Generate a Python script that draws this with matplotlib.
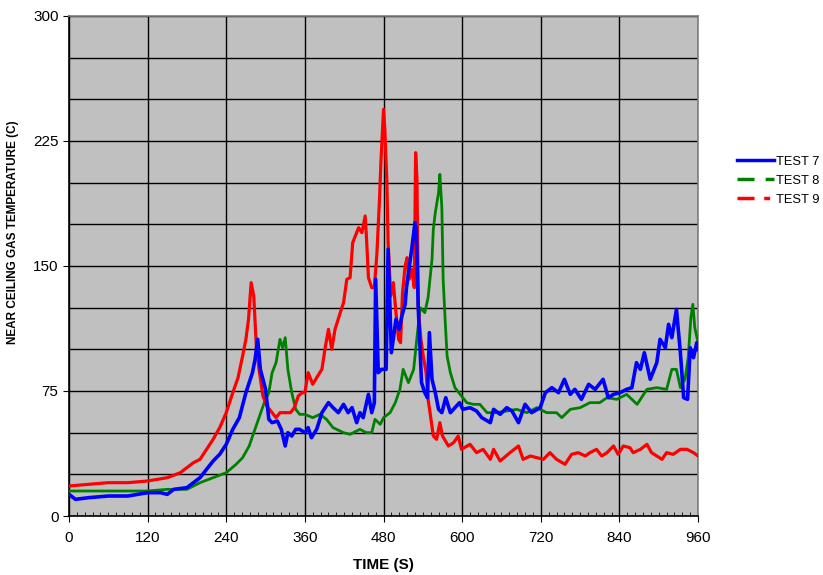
import matplotlib.pyplot as plt
from matplotlib.lines import Line2D
from matplotlib.ticker import MultipleLocator

plt.rcParams['font.family'] = ['Liberation Sans', 'DejaVu Sans']

# TEST 7 (blue)
t7 = [0, 10, 30, 60, 90, 120, 140, 150, 160, 180, 200, 210, 220, 230, 240, 250, 260, 270, 280, 284,
      288, 292, 296, 300, 305, 310, 318, 324, 330, 334, 340, 346, 352, 360, 365, 370, 378, 386, 396,
      403, 411, 419, 426, 432, 439, 444, 449, 457, 462, 466, 468, 472, 477, 484, 487, 492, 499, 504,
      508, 513, 515, 523, 528, 530, 533, 538, 543, 547, 550, 554, 559, 564, 569, 575, 582, 589, 596,
      601, 612, 622, 630, 643, 648, 658, 668, 676, 686, 696, 706, 719, 727, 737, 747, 756, 765, 772,
      782, 793, 803, 815, 823, 831, 841, 851, 859, 866, 872, 878, 887, 897, 902, 910, 915, 920, 927,
      933, 938, 944, 948, 953, 958, 960]
v7 = [13, 10, 11, 12, 12, 14, 14, 13, 16, 17, 23, 28, 33, 37, 43, 52, 59, 74, 86, 94,
      106, 88, 82, 76, 58, 56, 57, 52, 42, 50, 48, 52, 52, 50, 53, 47, 52, 62, 68,
      65, 62, 67, 62, 65, 56, 62, 59, 73, 62, 68, 142, 86, 88, 88, 160, 98, 118, 112,
      120, 127, 137, 160, 176, 172, 125, 80, 74, 71, 110, 82, 74, 64, 62, 71, 62, 65, 68,
      64, 65, 63, 59, 56, 64, 61, 65, 63, 56, 67, 62, 65, 74, 77, 74, 82, 73, 76,
      70, 79, 76, 82, 71, 73, 74, 76, 77, 92, 88, 98, 82, 92, 106, 101, 115, 107, 124,
      98, 71, 70, 101, 95, 104, 100]

# TEST 8 (green)
t8 = [0, 30, 60, 90, 120, 150, 170, 180, 200, 220, 240, 255, 265, 275, 282, 290, 298, 305, 310, 316,
      322, 326, 330, 334, 340, 346, 352, 360, 372, 383, 393, 403, 419, 429, 444, 454, 462, 467, 475,
      480, 490, 498, 505, 510, 518, 526, 531, 536, 543, 548, 554, 556, 559, 564, 566, 569, 571, 574,
      577, 582, 589, 597, 607, 617, 627, 638, 653, 668, 683, 699, 714, 729, 744, 752, 765, 780, 795,
      810, 821, 836, 851, 867, 882, 897, 912, 920, 927, 933, 940, 945, 949, 952, 955, 960]
v8 = [15, 15, 15, 15, 15, 16, 16, 16, 20, 23, 26, 31, 35, 42, 50, 59, 68, 74, 86, 92,
      106, 101, 107, 88, 74, 64, 61, 61, 59, 61, 58, 53, 50, 49, 52, 50, 50, 58, 55,
      59, 62, 68, 76, 88, 80, 88, 107, 125, 122, 131, 154, 172, 182, 194, 205, 185, 142, 118,
      96, 86, 77, 73, 68, 67, 67, 62, 62, 63, 64, 62, 65, 62, 62, 59, 64, 65, 68,
      68, 71, 70, 73, 67, 76, 77, 76, 88, 88, 77, 82, 95, 119, 127, 113, 104]

# TEST 9 (red)
t9 = [0, 30, 60, 90, 120, 150, 170, 190, 200, 210, 220, 230, 240, 250, 258, 265, 270, 274, 278, 282,
      286, 290, 296, 302, 310, 316, 322, 330, 338, 344, 350, 356, 360, 365, 372, 378, 386, 391, 396,
      401, 406, 414, 419, 424, 429, 433, 442, 447, 452, 454, 457, 462, 466, 470, 474, 476, 480, 482,
      485, 487, 491, 495, 499, 503, 506, 509, 513, 516, 519, 523, 527, 529, 531, 532, 533, 537, 541,
      545, 548, 551, 556, 561, 566, 570, 579, 587, 594, 599, 612, 622, 632, 643, 648, 658, 673, 686,
      693, 704, 714, 724, 734, 744, 757, 767, 777, 788, 795, 805, 813, 821, 831, 838, 846, 856, 861,
      872, 882, 889, 905, 912, 922, 933, 943, 953, 960]
v9 = [18, 19, 20, 20, 21, 23, 26, 32, 34, 40, 46, 53, 62, 74, 83, 96, 106, 118, 140, 132,
      101, 88, 72, 66, 62, 59, 62, 62, 62, 65, 72, 74, 74, 86, 79, 83, 88, 101, 112,
      100, 112, 122, 128, 142, 143, 164, 173, 170, 180, 167, 143, 137, 137, 158, 191, 212, 244, 232,
      202, 164, 132, 140, 122, 106, 104, 134, 150, 155, 142, 148, 137, 218, 202, 166, 125, 106, 95,
      86, 70, 62, 48, 46, 56, 48, 42, 44, 48, 40, 43, 38, 40, 34, 40, 33, 38, 42,
      34, 36, 35, 34, 38, 34, 31, 37, 38, 36, 38, 40, 36, 38, 42, 37, 42, 41, 38,
      40, 43, 38, 34, 38, 37, 40, 40, 38, 36]

fig = plt.figure(figsize=(8.23, 5.75), dpi=100)
ax = fig.add_axes([0.0838, 0.1026, 0.7644, 0.8696])
ax.set_facecolor('#c0c0c0')

ax.plot(t8, v8, color='#008000', lw=2, zorder=3)
ax.plot(t9, v9, color='#ff0000', lw=2.3, zorder=3)
ax.plot(t7, v7, color='#0000ff', lw=2.6, zorder=4)

ax.set_xlim(0, 960)
ax.set_ylim(0, 300)
ax.xaxis.set_major_locator(MultipleLocator(120))
ax.xaxis.set_minor_locator(MultipleLocator(12))
ax.yaxis.set_major_locator(MultipleLocator(75))
ax.yaxis.set_minor_locator(MultipleLocator(25))
ax.grid(which='major', axis='x', color='black', lw=1)
ax.grid(which='minor', axis='y', color='black', lw=1)
ax.grid(which='major', axis='y', color='black', lw=1)
ax.set_axisbelow(True)
ax.tick_params(axis='x', which='major', direction='out', length=4, labelsize=11, pad=7)
ax.tick_params(axis='x', which='minor', direction='in', length=3)
ax.tick_params(axis='y', which='major', direction='out', length=4, labelsize=11)
ax.tick_params(axis='y', which='minor', length=0)
for s in ['left', 'bottom']:
    ax.spines[s].set_color('black')
    ax.spines[s].set_linewidth(1.2)
for s in ['top', 'right']:
    ax.spines[s].set_color('#808080')
    ax.spines[s].set_linewidth(1.2)

ax.set_xlabel('TIME (S)', fontsize=11, fontweight='bold', labelpad=9)
ax.set_ylabel('NEAR CEILING GAS TEMPERATURE (C)', fontsize=8.5, fontweight='bold')
ax.yaxis.set_label_coords(-0.080, 0.568)

handles = [Line2D([], [], color='#0000ff', lw=2.5),
           Line2D([], [], color='#008000', lw=2.5, dashes=(4.9, 3.2)),
           Line2D([], [], color='#ff0000', lw=2.5, dashes=(4.9, 2.8, 1.7, 3))]
fig.legend(handles, ['TEST 7', 'TEST 8', 'TEST 9'], loc='upper left',
           bbox_to_anchor=(0.8955, 0.729), frameon=False, fontsize=9.3,
           handlelength=2.85, handletextpad=0.2, labelspacing=0.54,
           borderpad=0, borderaxespad=0)

fig.savefig('out.png', dpi=100)
